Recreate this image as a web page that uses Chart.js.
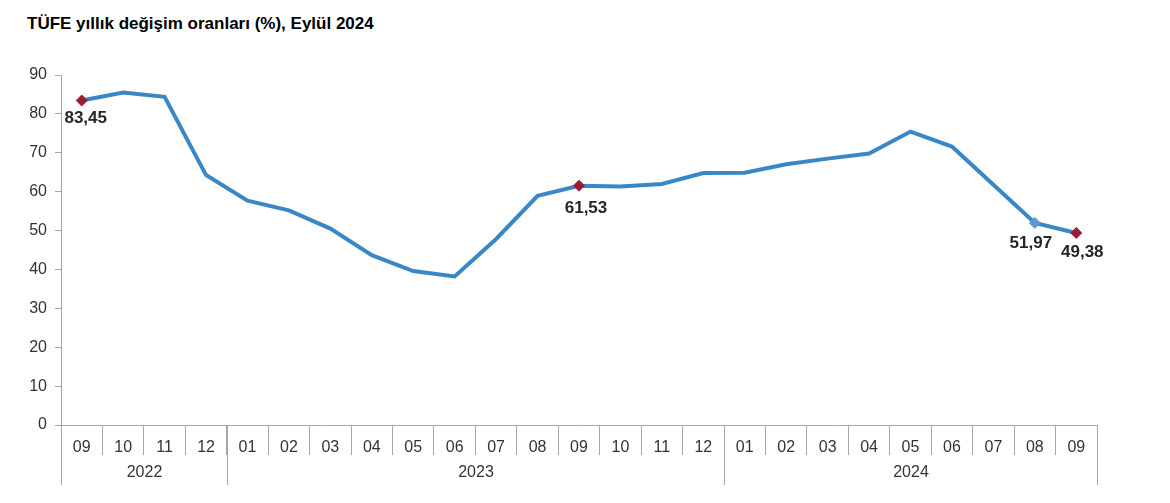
<!DOCTYPE html>
<html lang="tr">
<head>
<meta charset="utf-8">
<title>TÜFE yıllık değişim oranları</title>
<script src="https://cdn.jsdelivr.net/npm/chart.js@4.4.1/dist/chart.umd.min.js"></script>
<style>
  html, body { margin: 0; padding: 0; background: #fff; }
  #wrap { position: relative; width: 1170px; height: 503px; }
  #title { position: absolute; left: 27px; top: 14px; font: bold 17px 'Liberation Sans', Arial, sans-serif; color: #000; }
  canvas { position: absolute; left: 0; top: 0; }
</style>
</head>
<body>
<div id="wrap">
  <div id="title">TÜFE yıllık değişim oranları (%), Eylül 2024</div>
  <canvas id="cpiChart" width="1170" height="503"></canvas>
</div>
<script>
// ==================== DATA ====================
const months = ['09', '10', '11', '12',
  '01', '02', '03', '04', '05', '06', '07', '08', '09', '10', '11', '12',
  '01', '02', '03', '04', '05', '06', '07', '08', '09'];
const cpiValues = [83.45, 85.51, 84.39, 64.27,
  57.68, 55.18, 50.51, 43.68, 39.59, 38.21, 47.83, 58.94, 61.53, 61.36, 61.98, 64.77,
  64.86, 67.07, 68.50, 69.80, 75.45, 71.60, 61.78, 51.97, 49.38];
const years = ['2022', '2023', '2024'];
const monthsPerYear = [4, 12, 9];
const labelledPoints = [0, 12, 23, 24];

// ==================== STYLE ====================
const FONT = "'Liberation Sans', Arial, sans-serif";
const LINE_COLOR = '#3a87c6';
const MARK_RED = '#9b1c35';
const MARK_BLUE = '#5b9bd5';
const AXIS_COLOR = '#a6a6a6';
const TEXT_COLOR = '#333333';
// label offsets relative to the point (dx, dy)
const labelOffset = { 0: [4, 18], 12: [7, 23], 23: [-4, 20], 24: [6, 19] };

Chart.defaults.font.family = FONT;

const yearAxisPlugin = {
  id: 'yearAxis',
  afterDraw(chart) {
    const { ctx, chartArea } = chart;
    const xs = chart.scales.x;
    const half = (xs.getPixelForValue(1) - xs.getPixelForValue(0)) / 2;
    const top = chartArea.bottom;
    const bottom = chartArea.bottom + 60;
    ctx.save();
    ctx.strokeStyle = AXIS_COLOR;
    ctx.lineWidth = 1;
    ctx.fillStyle = TEXT_COLOR;
    ctx.font = '16px ' + FONT;
    ctx.textAlign = 'center';
    ctx.textBaseline = 'middle';
    let start = 0;
    years.forEach((yr, i) => {
      const end = start + monthsPerYear[i];
      const x0 = Math.round(xs.getPixelForValue(start) - half) + 0.5;
      const x1 = Math.round(xs.getPixelForValue(end - 1) + half) + 0.5;
      ctx.beginPath();
      ctx.moveTo(x0, top); ctx.lineTo(x0, bottom);
      ctx.moveTo(x1, top); ctx.lineTo(x1, bottom);
      ctx.stroke();
      ctx.fillText(yr, (x0 + x1) / 2, chartArea.bottom + 48);
      start = end;
    });
    ctx.restore();
  }
};

const pointLabelPlugin = {
  id: 'pointLabels',
  afterDatasetsDraw(chart) {
    const { ctx } = chart;
    const meta = chart.getDatasetMeta(0);
    ctx.save();
    ctx.fillStyle = '#262626';
    ctx.font = 'bold 17px ' + FONT;
    ctx.textAlign = 'center';
    ctx.textBaseline = 'middle';
    labelledPoints.forEach(i => {
      const pt = meta.data[i];
      const off = labelOffset[i];
      ctx.fillText(cpiValues[i].toFixed(2).replace('.', ','), pt.x + off[0], pt.y + off[1]);
    });
    ctx.restore();
  }
};

new Chart(document.getElementById('cpiChart'), {
  type: 'line',
  data: {
    labels: months,
    datasets: [{
      label: 'TÜFE yıllık değişim (%)',
      data: cpiValues,
      borderColor: LINE_COLOR,
      borderWidth: 4,
      tension: 0,
      fill: false,
      pointStyle: 'rectRot',
      pointRadius: ctx => labelledPoints.includes(ctx.dataIndex) ? 5.5 : 0,
      pointHoverRadius: 0,
      pointBackgroundColor: ctx => ctx.dataIndex === 23 ? MARK_BLUE : MARK_RED,
      pointBorderColor: ctx => ctx.dataIndex === 23 ? MARK_BLUE : MARK_RED,
      pointBorderWidth: 1
    }]
  },
  options: {
    responsive: false,
    animation: false,
    layout: { padding: { top: 75, right: 73, bottom: 0, left: 0 } },
    plugins: {
      legend: { display: false },
      tooltip: { enabled: false },
      title: { display: false }
    },
    scales: {
      x: {
        offset: true,
        grid: { offset: true, drawOnChartArea: false, tickLength: 30, color: AXIS_COLOR },
        border: { color: AXIS_COLOR },
        ticks: { color: TEXT_COLOR, font: { size: 16 }, padding: -17, maxRotation: 0, autoSkip: false },
        afterFit: s => { s.height = 78; }
      },
      y: {
        min: 0,
        max: 90,
        grid: { drawOnChartArea: false, tickLength: 6, color: AXIS_COLOR },
        border: { color: AXIS_COLOR },
        ticks: { stepSize: 10, color: TEXT_COLOR, font: { size: 16 }, padding: 8 },
        afterFit: s => { s.width = 61; }
      }
    }
  },
  plugins: [yearAxisPlugin, pointLabelPlugin]
});
</script>
</body>
</html>
